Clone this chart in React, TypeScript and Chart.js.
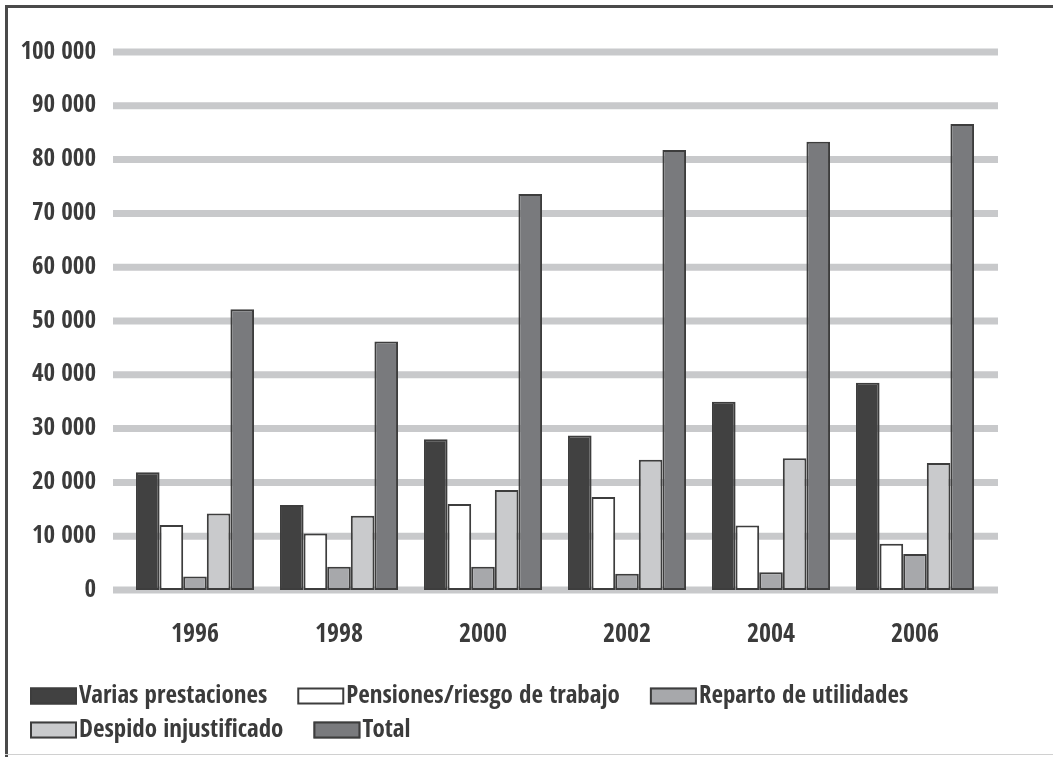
import React, { useEffect, useRef } from 'react';
import { Chart, registerables } from 'chart.js';

Chart.register(...registerables);

const categories = ['1996', '1998', '2000', '2002', '2004', '2006'];
const variasPrestaciones = [21900, 15800, 28000, 28700, 35000, 38500];
const pensionesRiesgo = [12100, 10500, 16000, 17300, 12000, 8600];
const repartoUtilidades = [2500, 4300, 4300, 3000, 3300, 6700];
const despidoInjustificado = [14200, 13800, 18600, 24200, 24500, 23600];
const total = [52200, 46200, 73600, 81800, 83300, 86600];
const seriesLabels = [
  'Varias prestaciones',
  'Pensiones/riesgo de trabajo',
  'Reparto de utilidades',
  'Despido injustificado',
  'Total',
];

const FONT = "'Open Sans Condensed', 'DejaVu Sans Condensed', sans-serif";
const TEXT = '#3b3b3b';
const BORDER = '#3d3d3d';
const GRID = '#c8c9cb';
const COLORS = ['#414141', '#ffffff', '#a7a8ab', '#c9cacc', '#797a7d'];

const fmt = (v: number) => String(v).replace(/\B(?=(\d{3})+(?!\d))/g, ' ');

const framePlugin = {
  id: 'frame',
  beforeDraw(chart: any) {
    const { ctx, width, height } = chart;
    ctx.save();
    ctx.fillStyle = '#ffffff';
    ctx.fillRect(0, 0, width, height);
    ctx.fillStyle = '#4a4a4a';
    ctx.fillRect(5, 5, width - 5, 3);
    ctx.fillRect(5, 5, 3, height - 5);
    ctx.fillStyle = '#d0d0d0';
    ctx.fillRect(5, height - 3, width - 5, 1);
    ctx.restore();
  },
};

const gridPlugin = {
  id: 'wideGrid',
  beforeDatasetsDraw(chart: any) {
    const { ctx, chartArea, scales } = chart;
    const y = scales.y;
    ctx.save();
    ctx.strokeStyle = GRID;
    ctx.lineWidth = 7;
    y.ticks.forEach((t: any) => {
      const py = y.getPixelForValue(t.value);
      ctx.beginPath();
      ctx.moveTo(chartArea.left - 10, py);
      ctx.lineTo(chartArea.right + 11, py);
      ctx.stroke();
    });
    ctx.restore();
  },
};

const legendPlugin = {
  id: 'customLegend',
  afterDraw(chart: any) {
    const { ctx } = chart;
    ctx.save();
    ctx.font = `bold 25px ${FONT}`;
    ctx.textBaseline = 'middle';
    ctx.textAlign = 'left';
    const rowY = [696, 730];
    let x = 30;
    let row = 0;
    chart.data.datasets.forEach((ds: any) => {
      const tw = ctx.measureText(ds.label).width;
      const w = 49 + tw;
      if (x + w > 1010) {
        row += 1;
        x = 30;
      }
      const y = rowY[row];
      ctx.fillStyle = ds.backgroundColor;
      ctx.fillRect(x, y - 8.5, 47, 17);
      ctx.strokeStyle = BORDER;
      ctx.lineWidth = 2;
      ctx.strokeRect(x + 1, y - 7.5, 45, 15);
      ctx.fillStyle = TEXT;
      ctx.fillText(ds.label, x + 49, y);
      x += w + 30;
    });
    ctx.restore();
  },
};

export default function App() {
  const ref = useRef<HTMLCanvasElement | null>(null);
  useEffect(() => {
    document.body.style.margin = '0';
    if (!ref.current) return;
    const series = [variasPrestaciones, pensionesRiesgo, repartoUtilidades, despidoInjustificado, total];
    const chart = new Chart(ref.current, {
      type: 'bar',
      data: {
        labels: categories,
        datasets: series.map((d, i) => ({
          label: seriesLabels[i],
          data: d,
          backgroundColor: COLORS[i],
          borderColor: BORDER,
          borderWidth: 2,
          borderSkipped: false,
          categoryPercentage: 0.82,
          barPercentage: 1,
        })),
      },
      options: {
        responsive: false,
        animation: false,
        devicePixelRatio: 1,
        layout: { padding: { top: 52, right: 66, left: 0, bottom: 0 } },
        plugins: { legend: { display: false }, tooltip: { enabled: false } },
        scales: {
          x: {
            grid: { display: false },
            border: { display: false },
            ticks: { color: TEXT, font: { family: FONT, size: 26, weight: 'bold' }, padding: 22 },
            afterFit: (s: any) => {
              s.height = 167;
            },
          },
          y: {
            min: 0,
            max: 100000,
            grid: { display: false },
            border: { display: false },
            ticks: {
              stepSize: 10000,
              color: TEXT,
              font: { family: FONT, size: 25, weight: 'bold' },
              padding: 19,
              callback: (v: any) => fmt(Number(v)),
            },
            afterFit: (s: any) => {
              s.width = 123;
            },
          },
        },
      },
      plugins: [framePlugin, gridPlugin, legendPlugin],
    });
    return () => chart.destroy();
  }, []);
  return <canvas ref={ref} width={1053} height={757} style={{ display: 'block', width: 1053, height: 757 }} />;
}
